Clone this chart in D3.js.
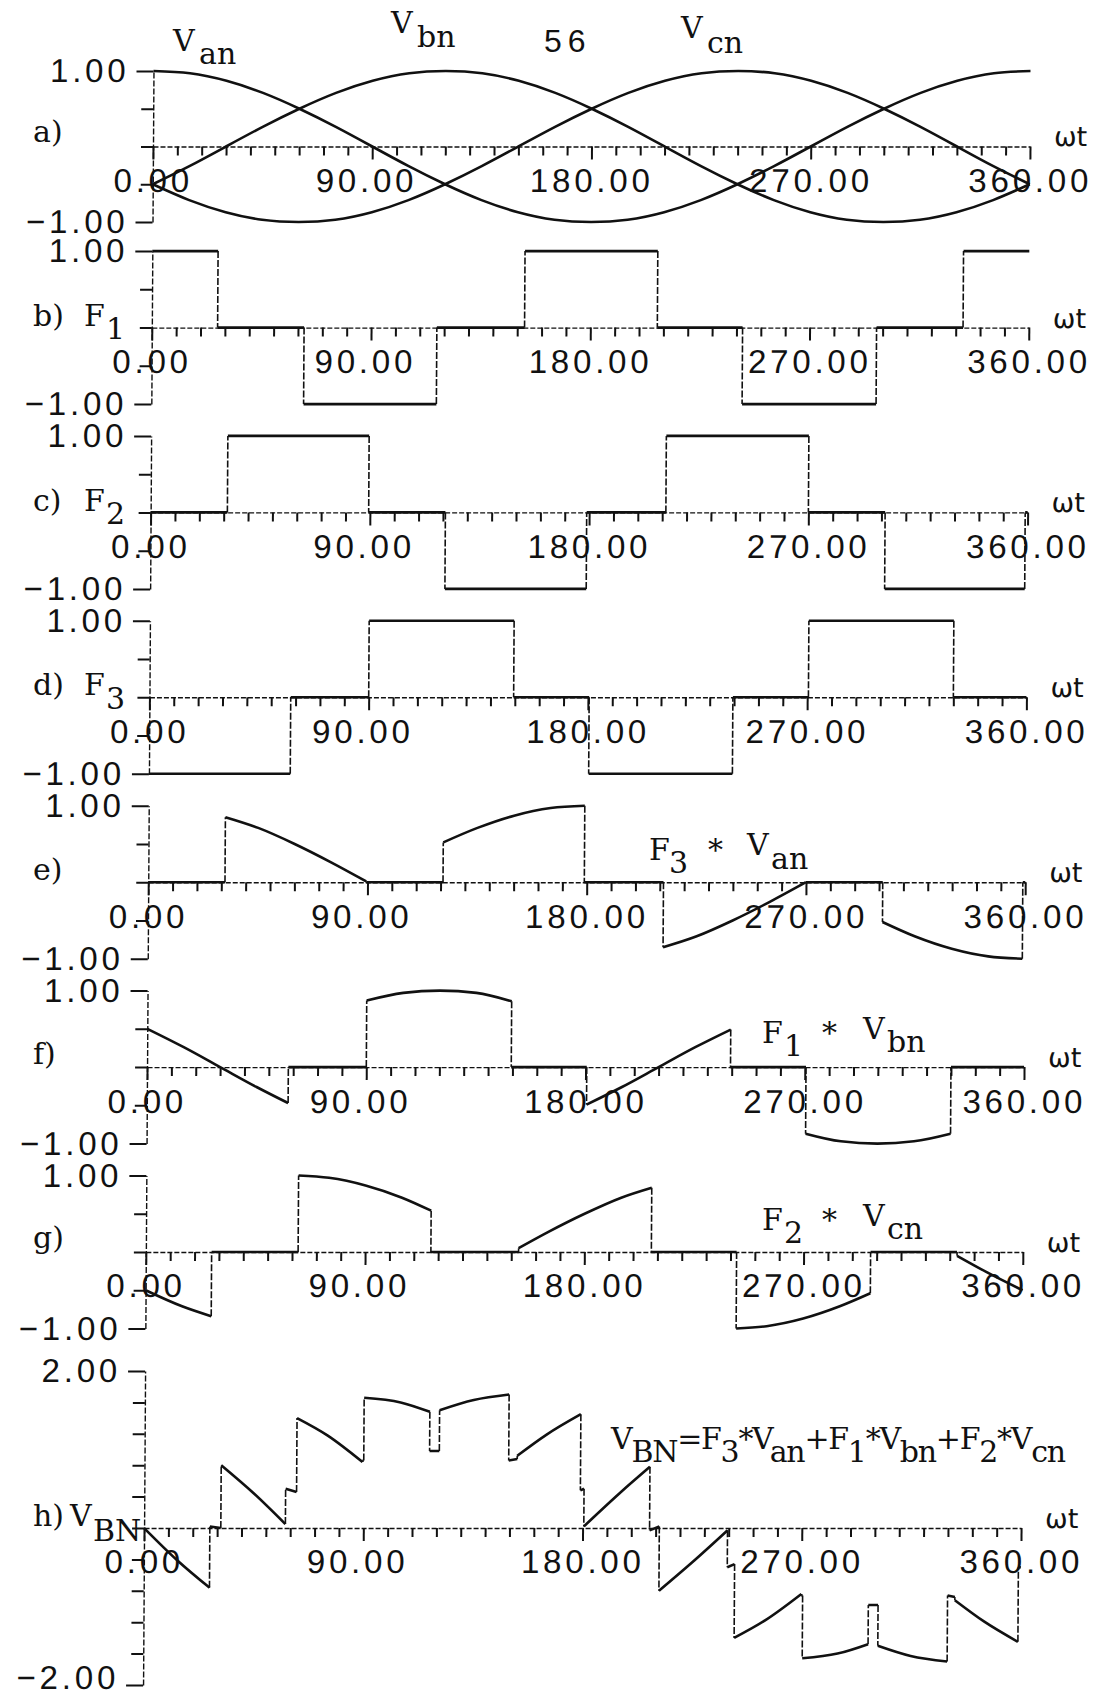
<!DOCTYPE html>
<html>
<head>
<meta charset="utf-8">
<script src="https://cdn.jsdelivr.net/npm/d3@7"></script>
<style>
  html, body { margin: 0; padding: 0; background: #fff; }
  svg { display: block; color: #111; }
  .axis text { font-family: "Liberation Sans", Arial, sans-serif; font-size: 33px; letter-spacing: 3.8px; fill: #111; }
  .mono { font-family: "DejaVu Serif", "Courier New", serif; font-size: 30px; fill: #111; }
  .omega { font-family: "DejaVu Sans", sans-serif; font-size: 27px; fill: #111; }
  .page { font-family: "Liberation Sans", Arial, sans-serif; font-size: 32px; letter-spacing: 6px; fill: #111; }
</style>
</head>
<body>
<svg id="chart" width="1106" height="1695"></svg>
<script>
// ---- data ----
const phaseAngles = [0, 15, 30, 45, 60, 75, 90, 105, 120, 135, 150, 165, 180,
                     195, 210, 225, 240, 255, 270, 285, 300, 315, 330, 345, 360];
const vAn = [1.00, 0.97, 0.87, 0.71, 0.50, 0.26, 0.00, -0.26, -0.50, -0.71, -0.87, -0.97, -1.00,
             -0.97, -0.87, -0.71, -0.50, -0.26, 0.00, 0.26, 0.50, 0.71, 0.87, 0.97, 1.00];
const vBn = [-0.50, -0.26, 0.00, 0.26, 0.50, 0.71, 0.87, 0.97, 1.00, 0.97, 0.87, 0.71, 0.50,
             0.26, 0.00, -0.26, -0.50, -0.71, -0.87, -0.97, -1.00, -0.97, -0.87, -0.71, -0.50];
const vCn = [-0.50, -0.71, -0.87, -0.97, -1.00, -0.97, -0.87, -0.71, -0.50, -0.26, 0.00, 0.26, 0.50,
             0.71, 0.87, 0.97, 1.00, 0.97, 0.87, 0.71, 0.50, 0.26, 0.00, -0.26, -0.50];

// switching functions: [angle where level starts, level]
const f1Steps = [[0, 1], [27, 0], [62.5, -1], [117, 0], [153, 1], [207.5, 0], [242.5, -1], [297.5, 0], [333, 1], [360, 1]];
const f2Steps = [[0, 0], [31.5, 1], [89.5, 0], [121, -1], [179, 0], [211.5, 1], [270, 0], [301.5, -1], [359, 0], [360, 0]];
const f3Steps = [[0, -1], [58, 0], [90, 1], [149.5, 0], [180.5, -1], [239.5, 0], [270.5, 1], [330, 0], [360, 0]];

// products, as continuous pieces [angle, value]
const prodE = [
  [[0, 0], [31.5, 0]],
  [[31.5, 0.85], [45, 0.71], [60, 0.50], [75, 0.26], [89.5, 0.01]],
  [[89.5, 0], [121, 0]],
  [[121, 0.52], [135, 0.71], [150, 0.87], [165, 0.97], [179, 1.00]],
  [[179, 0], [211.5, 0]],
  [[211.5, -0.85], [225, -0.71], [240, -0.50], [255, -0.26], [270, 0.00]],
  [[270, 0], [301.5, 0]],
  [[301.5, -0.52], [315, -0.71], [330, -0.87], [345, -0.97], [359, -1.00]],
  [[359, 0], [360, 0]]
];
const prodF = [
  [[0, 0.50], [15, 0.26], [30, 0.00], [45, -0.26], [58, -0.47]],
  [[58, 0], [90, 0]],
  [[90, 0.87], [105, 0.97], [120, 1.00], [135, 0.97], [149.5, 0.86]],
  [[149.5, 0], [180.5, 0]],
  [[180.5, -0.49], [195, -0.26], [210, 0.00], [225, 0.26], [239.5, 0.49]],
  [[239.5, 0], [270.5, 0]],
  [[270.5, -0.87], [285, -0.97], [300, -1.00], [315, -0.97], [330, -0.87]],
  [[330, 0], [360, 0]]
];
const prodG = [
  [[0, -0.50], [15, -0.71], [27, -0.84]],
  [[27, 0], [62.5, 0]],
  [[62.5, 1.00], [75, 0.97], [90, 0.87], [105, 0.71], [117, 0.54]],
  [[117, 0], [153, 0]],
  [[153, 0.05], [165, 0.26], [180, 0.50], [195, 0.71], [207.5, 0.84]],
  [[207.5, 0], [242.5, 0]],
  [[242.5, -1.00], [255, -0.97], [270, -0.87], [285, -0.71], [297.5, -0.54]],
  [[297.5, 0], [333, 0]],
  [[333, -0.05], [345, -0.26], [360, -0.50]]
];
const vBN = [
  [[0, 0.00], [14, -0.42], [27, -0.76]],
  [[27, 0.02], [31.5, 0.00]],
  [[31.5, 0.80], [45, 0.44], [58, 0.05]],
  [[58, 0.50], [62.5, 0.46]],
  [[62.5, 1.40], [75, 1.18], [89.5, 0.84]],
  [[89.5, 0.86], [90, 0.86]],
  [[90, 1.66], [105, 1.60], [117, 1.48]],
  [[117, 0.98], [121, 0.98]],
  [[121, 1.50], [135, 1.63], [149.5, 1.70]],
  [[149.5, 0.86], [153, 0.88]],
  [[153, 0.92], [165, 1.19], [179, 1.45]],
  [[179, 0.48], [180.5, 0.50]],
  [[180.5, 0.02], [195, 0.44], [207.5, 0.78]],
  [[207.5, -0.03], [211.5, 0.02]],
  [[211.5, -0.80], [225, -0.44], [239.5, -0.03]],
  [[239.5, -0.50], [242.5, -0.46]],
  [[242.5, -1.40], [255, -1.18], [270, -0.84]],
  [[270, -0.86], [270.5, -0.86]],
  [[270.5, -1.66], [285, -1.60], [297.5, -1.48]],
  [[297.5, -0.98], [301.5, -0.98]],
  [[301.5, -1.50], [315, -1.63], [330, -1.70]],
  [[330, -0.86], [333, -0.88]],
  [[333, -0.92], [345, -1.19], [359, -1.45]],
  [[359, -0.50], [360, -0.50]]
];

const unitTicks = [-1, -0.5, 0, 0.5, 1];
const wideTicks = [-2, -1.6, -1.2, -0.8, -0.4, 0, 0.4, 0.8, 1.2, 1.6, 2];
const degreeTicks = [0, 10, 20, 30, 40, 50, 60, 70, 80, 90, 100, 110, 120, 130, 140, 150, 160, 170, 180,
                     190, 200, 210, 220, 230, 240, 250, 260, 270, 280, 290, 300, 310, 320, 330, 340, 350, 360];

// ---- layout ----
const svg = d3.select('#chart');
const fmt = d3.format('.2f');
const x = d3.scaleLinear().domain([0, 360]).range([153, 1030]);

// the scan leans a little: lower panels sit further left
const plot = svg.append('g').attr('transform', 'translate(0,146) skewX(-0.37) translate(0,-146)');

const unitScale = zero => d3.scaleLinear().domain([-1, 1]).range([zero + 76.5, zero - 76.5]);
const yA = d3.scaleLinear().domain([-1, 1]).range([222, 71]);
const yB = unitScale(327.6), yC = unitScale(512.4), yD = unitScale(697.3);
const yE = unitScale(882.2), yF = unitScale(1067.1), yG = unitScale(1252);
const yH = d3.scaleLinear().domain([-2, 2]).range([1685, 1371]);

function drawAxes(y, ticks) {
  const ends = [ticks[0], ticks[ticks.length - 1]];
  const g = plot.append('g');

  const xg = g.append('g').attr('class', 'axis')
    .attr('transform', `translate(0,${y(0)})`)
    .call(d3.axisBottom(x).tickValues(degreeTicks).tickSize(9).tickSizeOuter(0).tickPadding(13)
      .tickFormat(d => d % 90 === 0 ? fmt(d) : ''));
  xg.select('.domain').attr('stroke-width', 1.4).attr('stroke-dasharray', '5 2');
  xg.selectAll('.tick line').attr('stroke-width', 2).attr('y2', d => d % 90 === 0 ? 13 : 9);
  xg.selectAll('.tick text').attr('dx', d => d === 90 ? -6 : 0);

  const yg = g.append('g').attr('class', 'axis')
    .attr('transform', `translate(${x(0)},0)`)
    .call(d3.axisLeft(y).tickValues(ticks).tickSize(12).tickSizeOuter(0).tickPadding(12)
      .tickFormat(d => ends.includes(d) ? fmt(d) : ''));
  yg.select('.domain').attr('stroke-width', 1.4).attr('stroke-dasharray', '6 2');
  yg.selectAll('.tick line').attr('stroke-width', 2).attr('x2', d => ends.includes(d) ? -17 : -12);
  // keep the bottom label of the last panel inside the page
  yg.selectAll('.tick text').filter(d => d === -2).attr('dy', '0.12em');

  g.append('text').attr('class', 'omega').attr('x', x(360) + 24).attr('y', y(0)).text('ωt');
}

// draw continuous pieces thick, the jumps between them thin
function drawPieces(y, pieces) {
  const line = d3.line().x(d => x(d[0])).y(d => y(d[1])).curve(d3.curveMonotoneX);
  const g = plot.append('g');
  g.selectAll('path').data(pieces).join('path')
    .attr('d', line).attr('fill', 'none').attr('stroke', '#111')
    .attr('stroke-width', 2.6).attr('stroke-linejoin', 'round');
  const jumps = d3.pairs(pieces).map(([a, b]) => [a[a.length - 1], b[0]]);
  g.selectAll('line').data(jumps).join('line')
    .attr('x1', d => x(d[0][0])).attr('y1', d => y(d[0][1]))
    .attr('x2', d => x(d[1][0])).attr('y2', d => y(d[1][1]))
    .attr('stroke', '#111').attr('stroke-width', 1.6).attr('stroke-dasharray', '7 2');
}

const stepPieces = steps => d3.pairs(steps).map(([a, b]) => [[a[0], a[1]], [b[0], a[1]]]);

// a) phase voltages
drawAxes(yA, unitTicks);
const sine = d3.line().x((d, i) => x(phaseAngles[i])).y(d => yA(d)).curve(d3.curveNatural);
plot.append('g').selectAll('path').data([vAn, vBn, vCn]).join('path')
  .attr('d', sine).attr('fill', 'none').attr('stroke', '#111').attr('stroke-width', 2.6);

drawAxes(yB, unitTicks); drawPieces(yB, stepPieces(f1Steps));
drawAxes(yC, unitTicks); drawPieces(yC, stepPieces(f2Steps));
drawAxes(yD, unitTicks); drawPieces(yD, stepPieces(f3Steps));
drawAxes(yE, unitTicks); drawPieces(yE, prodE);
drawAxes(yF, unitTicks); drawPieces(yF, prodF);
drawAxes(yG, unitTicks); drawPieces(yG, prodG);
drawAxes(yH, wideTicks); drawPieces(yH, vBN);

// ---- free text (placed as seen on the scan) ----
const txt = svg.append('g');
function put(parts, cls = 'mono') {
  parts.forEach(([t, px, py]) => txt.append('text').attr('class', cls).attr('x', px).attr('y', py).text(t));
}

put([['V', 173, 51], ['an', 199, 64]]);
put([['V', 391, 33], ['bn', 417, 47]]);
put([['56', 544, 52]], 'page');
put([['V', 681, 38], ['cn', 707, 53]]);

put([['a)', 33, 142]]);
put([['b)', 33, 326], ['F', 84, 326], ['1', 106, 339]]);
put([['c)', 33, 511], ['F', 84, 511], ['2', 106, 524]]);
put([['d)', 33, 695], ['F', 84, 695], ['3', 106, 709]]);
put([['e)', 33, 880]]);
put([['f)', 33, 1064]]);
put([['g)', 33, 1248]]);
put([['h)', 33, 1526], ['V', 70, 1526], ['BN', 93, 1541]]);

put([['F', 649, 860], ['3', 669, 873], ['*', 708, 860], ['V', 747, 855], ['an', 771, 869]]);
put([['F', 762, 1043], ['1', 784, 1056], ['*', 822, 1043], ['V', 863, 1039], ['bn', 887, 1052]]);
put([['F', 762, 1230], ['2', 784, 1243], ['*', 822, 1230], ['V', 863, 1226], ['cn', 887, 1239]]);

// V_BN = F3*Van + F1*Vbn + F2*Vcn
const formula = txt.append('text').attr('class', 'mono').attr('x', 611).attr('y', 1449)
  .attr('textLength', 455).attr('lengthAdjust', 'spacing');
[['V', 0], ['BN', 1], ['=F', 0], ['3', 1], ['*V', 0], ['an', 1], ['+F', 0], ['1', 1],
 ['*V', 0], ['bn', 1], ['+F', 0], ['2', 1], ['*V', 0], ['cn', 1]].forEach(([t, low], i, arr) => {
  const prevLow = i > 0 ? arr[i - 1][1] : 0;
  formula.append('tspan').attr('dy', (low - prevLow) * 13).text(t);
});
</script>
</body>
</html>
